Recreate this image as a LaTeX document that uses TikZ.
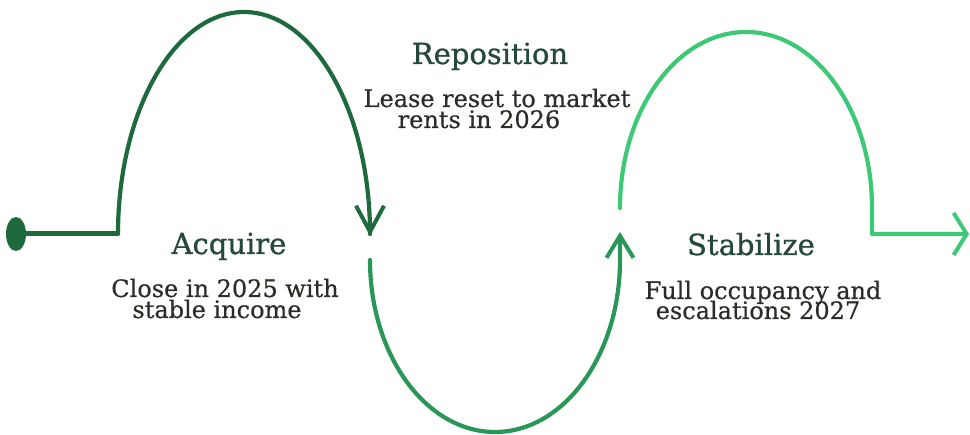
\documentclass[tikz,border=0pt]{standalone}
\usepackage{fontspec}
\setmainfont{DejaVu Serif}
\newfontfamily\ttlfont[FakeBold=0.9]{DejaVu Serif}
\newfontfamily\bdyfont[FakeBold=0.5]{DejaVu Serif}
\usetikzlibrary{arrows.meta}
\definecolor{gA}{HTML}{1F6A3D}
\definecolor{gB}{HTML}{2A9657}
\definecolor{gC}{HTML}{3CC875}
\definecolor{ttl}{HTML}{24493A}
\definecolor{bdy}{HTML}{2E2B27}
\tikzset{
  curve/.style={line width=4.2pt, line cap=round, line join=round},
  title/.style={text=ttl, font=\ttlfont\fontsize{29}{32}\selectfont, anchor=base, inner sep=0pt},
  body/.style={text=bdy, font=\bdyfont\fontsize{24}{26}\selectfont, anchor=base, inner sep=0pt},
}
\begin{document}
\begin{tikzpicture}[x=1pt,y=-1pt]
\useasboundingbox (0,0) rectangle (970,435);
% start dot and first curve
\coordinate (s0) at (16,234);
\coordinate (s1) at (118,234);
\coordinate (e1) at (370,236);
\fill[gA] (s0) ellipse [x radius=10pt, y radius=17pt];
\draw[curve, gA, line width=5pt, line cap=butt] (s0) -- (s1);
\draw[curve, gA, -{Straight Barb[length=26pt,width=28pt,line width=4pt]}]
  (s1) arc[start angle=180, end angle=0, x radius=126pt, y radius=222pt] -- (e1);
% second curve
\coordinate (s2) at (370,260);
\coordinate (e2) at (620,232);
\draw[curve, gB, -{Straight Barb[length=22pt,width=27pt,line width=4pt]}]
  (s2) arc[start angle=180, end angle=360, x radius=125pt, y radius=172pt] -- (e2);
% third curve
\coordinate (s3) at (620,208);
\coordinate (c3) at (872,234);
\coordinate (e3) at (969,234);
\draw[curve, gC, -{Straight Barb[length=13pt,width=42pt,line width=4pt]}]
  (s3) arc[start angle=180, end angle=0, x radius=126pt, y radius=176pt] -- (c3) -- (e3);
% texts
\node[title] (t1) at (229,254) {Acquire};
\node[body] (a1) at (225,297) {Close in 2025 with};
\node[body] (a2) at (217,318) {stable income};
\node[title] (t2) at (490,64) {Reposition};
\node[body] (b1) at (497,107) {Lease reset to market};
\node[body] (b2) at (479,128) {rents in 2026};
\node[title] (t3) at (751,255) {Stabilize};
\node[body] (c1) at (763,299) {Full occupancy and};
\node[body] (c2) at (758,319) {escalations 2027};
\end{tikzpicture}
\end{document}
